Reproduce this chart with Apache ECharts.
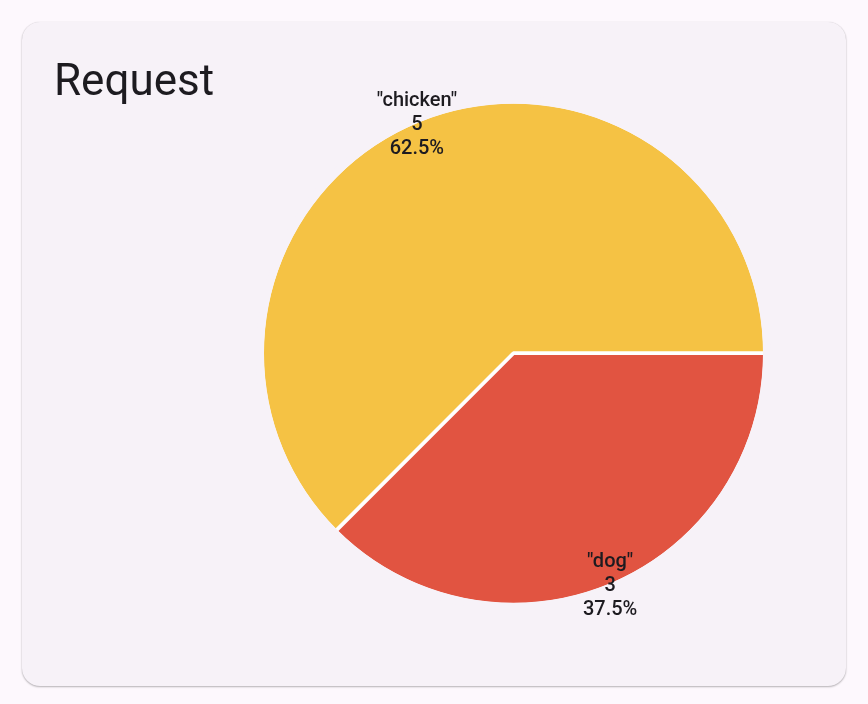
<!DOCTYPE html>
<html>
<head>
<meta charset="utf-8">
<script src="https://cdn.jsdelivr.net/npm/echarts@6/dist/echarts.min.js"></script>
<style>
  html, body { margin: 0; padding: 0; background: #fdf8fd; }
  #wrap { position: relative; width: 868px; height: 704px; }
  #card { position: absolute; left: 22px; top: 22px; width: 824px; height: 664px;
          border-radius: 18px; background: #f7f2f8;
          box-shadow: 0 1px 2px rgba(0,0,0,0.28), 0 0 1px rgba(0,0,0,0.15); }
  #chart { position: absolute; left: 0; top: 0; width: 868px; height: 704px; }
</style>
</head>
<body>
<div id="wrap"><div id="card"></div><div id="chart"></div></div>
<script>
const categories = ['"chicken"', '"dog"'];
const values = [5, 3];
const colors = ['#f5c244', '#e15441'];
const title = 'Request';
const labelOffsets = [[0, 5], [0, -1]];

const cardBg = '#f7f2f8';
const cx = 513.5, cy = 353.3, R = 249.5;

const pieData = categories.map((c, i) => ({ name: c, value: values[i], itemStyle: { color: colors[i] } }));
const labelData = categories.map((c, i) => ({ name: c, value: values[i], label: { offset: labelOffsets[i] } }));

const chart = echarts.init(document.getElementById('chart'), null, { renderer: 'canvas' });
chart.setOption({
  backgroundColor: 'transparent',
  animation: false,
  title: {
    text: title, left: 54, top: 62, padding: 0,
    textStyle: { fontFamily: 'Roboto', fontSize: 44, fontWeight: 'normal', color: '#1d1b20' }
  },
  series: [
    {
      type: 'pie', center: [cx, cy], radius: [0, R + 2],
      startAngle: 0, clockwise: false,
      itemStyle: { borderColor: '#ffffff', borderWidth: 3.6 },
      label: { show: false }, labelLine: { show: false },
      silent: true, emphasis: { disabled: true },
      data: pieData
    },
    {
      type: 'pie', center: [cx, cy], radius: [R, R + 8],
      itemStyle: { color: cardBg, borderWidth: 0 },
      label: { show: false }, labelLine: { show: false },
      silent: true, emphasis: { disabled: true },
      data: [{ name: 'ring', value: 1 }]
    },
    {
      type: 'pie', center: [cx, cy], radius: [0, 2 * R],
      startAngle: 0, clockwise: false, percentPrecision: 1,
      itemStyle: { color: 'rgba(0,0,0,0)', borderWidth: 0 },
      label: {
        show: true, position: 'inside',
        formatter: '{b}\n{c}\n{d}%',
        fontFamily: 'Roboto', fontSize: 20, fontWeight: 500, lineHeight: 24, color: '#1d1b20', align: 'center'
      },
      labelLine: { show: false },
      silent: true, emphasis: { disabled: true },
      data: labelData
    }
  ]
});
</script>
</body>
</html>
